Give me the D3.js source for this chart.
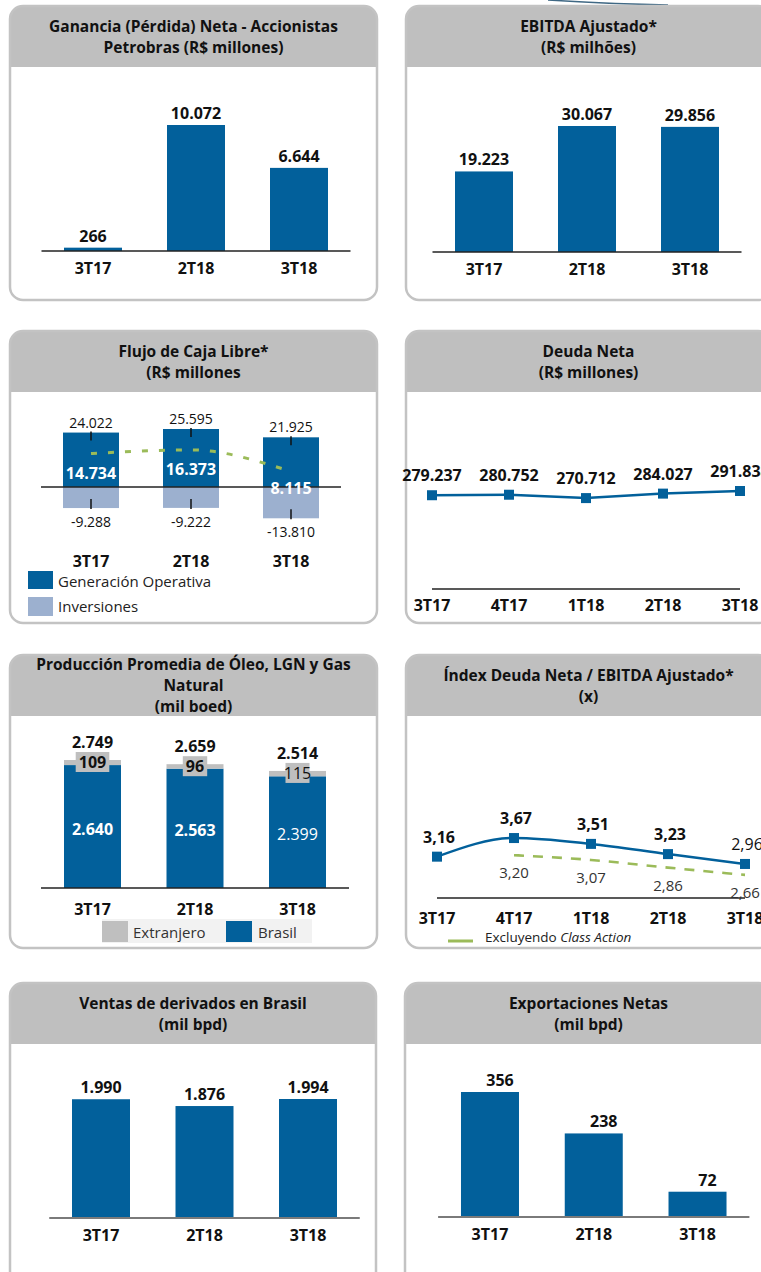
<!DOCTYPE html>
<html>
<head>
<meta charset="utf-8">
<script src="https://cdn.jsdelivr.net/npm/d3@7"></script>
<style>
  html, body { margin: 0; padding: 0; background: #ffffff; }
  svg { display: block; font-family: "Open Sans", "Noto Sans", sans-serif; }
</style>
</head>
<body>
<svg id="chart" width="761" height="1272"></svg>
<script>
// ---------- DATA ----------
const cats3 = ["3T17", "2T18", "3T18"];
const cats5 = ["3T17", "4T17", "1T18", "2T18", "3T18"];

const ganancia = [266, 10072, 6644];
const ebitda = [19223, 30067, 29856];

const fcfOperativa = [24022, 25595, 21925];
const fcfInversiones = [-9288, -9222, -13810];
const fcfLibre = [14734, 16373, 8115];

const deudaNeta = [279237, 280752, 270712, 284027, 291838];

const prodBrasil = [2640, 2563, 2399];
const prodExtranjero = [109, 96, 115];
const prodTotal = [2749, 2659, 2514];

const indexDeuda = [3.16, 3.67, 3.51, 3.23, 2.96];
const indexSinClassAction = [null, 3.20, 3.07, 2.86, 2.66];

const ventasDerivados = [1990, 1876, 1994];
const exportaciones = [356, 238, 72];

const titles = {
  ganancia: ["Ganancia (Pérdida) Neta - Accionistas", "Petrobras (R$ millones)"],
  ebitda: ["EBITDA Ajustado*", "(R$ milhões)"],
  fcf: ["Flujo de Caja Libre*", "(R$ millones"],
  deuda: ["Deuda Neta", "(R$ millones)"],
  prod: ["Producción Promedia de Óleo, LGN y Gas", "Natural", "(mil boed)"],
  index: ["Índex Deuda Neta / EBITDA Ajustado*", "(x)"],
  ventas: ["Ventas de derivados en Brasil", "(mil bpd)"],
  export: ["Exportaciones Netas", "(mil bpd)"]
};
const legendFcf = ["Generación Operativa", "Inversiones"];
const legendProd = ["Extranjero", "Brasil"];
const legendIndex = ["Excluyendo ", "Class Action"];

// ---------- STYLE ----------
const BLUE = "#02609b";
const LIGHTBLUE = "#9cb0cf";
const GRAY = "#bfbfbf";
const GREEN = "#9bbb59";
const TXT = "#111111";

const loc = d3.formatLocale({decimal: ",", thousands: ".", grouping: [3], currency: ["R$", ""], minus: "-"});
const fInt = loc.format(",d");
const fDec = loc.format(",.2f");

const svg = d3.select("#chart");

// decorative swoosh at the top
svg.append("path")
  .attr("d", "M548,0 Q610,4 668,5")
  .attr("fill", "none").attr("stroke", "#1d4e6e").attr("stroke-width", 1.6).attr("opacity", 0.85);

let clipId = 0;
function panel(x, y, w, h, lines) {
  const id = "clip" + (clipId++);
  svg.append("clipPath").attr("id", id)
    .append("rect").attr("x", x).attr("y", y).attr("width", w).attr("height", h).attr("rx", 13);
  const g = svg.append("g");
  g.append("rect").attr("x", x).attr("y", y).attr("width", w).attr("height", h).attr("rx", 13)
    .attr("fill", "#fff");
  g.append("rect").attr("x", x).attr("y", y).attr("width", w).attr("height", 61)
    .attr("fill", GRAY).attr("clip-path", `url(#${id})`);
  g.append("rect").attr("x", x).attr("y", y).attr("width", w).attr("height", h).attr("rx", 13)
    .attr("fill", "none").attr("stroke", "#c3c3c3").attr("stroke-width", 2.5);
  const cx = x + w / 2;
  const cy = y + 30.5;
  const n = lines.length;
  lines.forEach((t, i) => {
    g.append("text").attr("x", cx).attr("y", cy + (i - (n - 1) / 2) * 21 + 5.5)
      .attr("text-anchor", "middle").attr("font-size", 15.5).attr("font-weight", 700)
      .attr("fill", TXT).text(t);
  });
  return g;
}

function txt(g, x, y, t, opt = {}) {
  return g.append("text").attr("x", x).attr("y", y)
    .attr("text-anchor", opt.anchor || "middle")
    .attr("font-size", opt.size || 16)
    .attr("font-weight", opt.weight || 700)
    .attr("fill", opt.fill || TXT)
    .text(t);
}

function simpleBars(g, cats, vals, xr, y0, yTop, barW, opt = {}) {
  const step = (xr[1] - xr[0]) / cats.length;
  const pad = 1 - barW / step;
  const x = d3.scaleBand().domain(cats).range(xr).paddingInner(pad).paddingOuter(pad / 2);
  const y = d3.scaleLinear().domain([0, d3.max(vals)]).range([y0, yTop]);
  g.selectAll(null).data(vals).join("rect")
    .attr("x", (d, i) => x(cats[i])).attr("width", x.bandwidth())
    .attr("y", d => y(d)).attr("height", d => y(0) - y(d)).attr("fill", BLUE);
  g.append("line").attr("x1", xr[0]).attr("x2", xr[1]).attr("y1", y0).attr("y2", y0)
    .attr("stroke", opt.axisColor || "#222").attr("stroke-width", opt.axisW || 1.4);
  vals.forEach((d, i) => {
    txt(g, x(cats[i]) + x.bandwidth() / 2 + (opt.labelDx || 0), y(d) - 6, fInt(d));
  });
  cats.forEach(c => txt(g, x(c) + x.bandwidth() / 2, y0 + 23, c));
  return {x, y};
}

// ---------- 1. Ganancia ----------
{
  const g = panel(10, 6, 367, 294, titles.ganancia);
  simpleBars(g, cats3, ganancia, [41.5, 350.5], 251, 125, 58);
}

// ---------- 2. EBITDA ----------
{
  const g = panel(406, 6, 365, 294, titles.ebitda);
  simpleBars(g, cats3, ebitda, [432.5, 741.5], 252, 126, 58);
}

// ---------- 3. Flujo de Caja Libre ----------
{
  const g = panel(10, 331, 367, 292, titles.fcf);
  const xr = [41, 341];
  const step = (xr[1] - xr[0]) / 3, pad = 1 - 56 / step;
  const x = d3.scaleBand().domain(cats3).range(xr).paddingInner(pad).paddingOuter(pad / 2);
  const y = d3.scaleLinear().domain([0, d3.max(fcfOperativa)]).range([487, 429]);
  const cx = c => x(c) + x.bandwidth() / 2;
  g.selectAll(null).data(fcfInversiones).join("rect")
    .attr("x", (d, i) => x(cats3[i])).attr("width", x.bandwidth())
    .attr("y", y(0)).attr("height", d => y(d) - y(0)).attr("fill", LIGHTBLUE);
  g.selectAll(null).data(fcfOperativa).join("rect")
    .attr("x", (d, i) => x(cats3[i])).attr("width", x.bandwidth())
    .attr("y", d => y(d)).attr("height", d => y(0) - y(d)).attr("fill", BLUE);
  g.append("line").attr("x1", xr[0]).attr("x2", xr[1]).attr("y1", y(0)).attr("y2", y(0))
    .attr("stroke", "#222").attr("stroke-width", 1.4);
  // small ticks
  cats3.forEach((c, i) => {
    g.append("line").attr("x1", cx(c)).attr("x2", cx(c))
      .attr("y1", y(fcfOperativa[i]) - 1).attr("y2", y(fcfOperativa[i]) + 8)
      .attr("stroke", "#111").attr("stroke-width", 1.5);
    g.append("line").attr("x1", cx(c)).attr("x2", cx(c))
      .attr("y1", y(fcfInversiones[i]) - 9).attr("y2", y(fcfInversiones[i]) + 1)
      .attr("stroke", "#111").attr("stroke-width", 1.5);
  });
  // dashed free cash flow line (ends a little before the last bar centre, as in the original)
  const xl = (i) => cx(cats3[i]) - (i === 2 ? 9 : 0);
  const line = d3.line().x((d, i) => xl(i)).y(d => y(d)).curve(d3.curveMonotoneX);
  g.append("path").attr("d", line(fcfLibre)).attr("fill", "none")
    .attr("stroke", GREEN).attr("stroke-width", 3).attr("stroke-dasharray", "6,11");
  cats3.forEach((c, i) => {
    txt(g, cx(c), y(fcfOperativa[i]) - 5, fInt(fcfOperativa[i]), {weight: 400, size: 14});
    txt(g, cx(c), y(fcfInversiones[i]) + 19, fInt(fcfInversiones[i]), {weight: 400, size: 14});
    txt(g, cx(c), y(fcfLibre[i]) + 25, fInt(fcfLibre[i]), {fill: "#fff"});
    txt(g, cx(c), 567, c);
  });
  // legend
  g.append("rect").attr("x", 28).attr("y", 571).attr("width", 25).attr("height", 18).attr("fill", BLUE);
  txt(g, 58, 587, legendFcf[0], {anchor: "start", weight: 400, size: 15, fill: "#222"});
  g.append("rect").attr("x", 28).attr("y", 597).attr("width", 25).attr("height", 19).attr("fill", LIGHTBLUE);
  txt(g, 58, 612, legendFcf[1], {anchor: "start", weight: 400, size: 15, fill: "#222"});
}

// ---------- 4. Deuda Neta ----------
{
  const g = panel(406, 331, 365, 292, titles.deuda);
  const x = d3.scalePoint().domain(cats5).range([432, 740]);
  const y = d3.scaleLinear().domain([0, d3.max(deudaNeta)]).range([589, 491]);
  g.append("line").attr("x1", 432).attr("x2", 740).attr("y1", 589).attr("y2", 589)
    .attr("stroke", "#222").attr("stroke-width", 1.3);
  const line = d3.line().x((d, i) => x(cats5[i])).y(d => y(d));
  g.append("path").attr("d", line(deudaNeta)).attr("fill", "none")
    .attr("stroke", BLUE).attr("stroke-width", 2.5);
  deudaNeta.forEach((d, i) => {
    g.append("rect").attr("x", x(cats5[i]) - 5).attr("y", y(d) - 5)
      .attr("width", 10).attr("height", 10).attr("fill", BLUE);
    txt(g, x(cats5[i]), y(d) - 14, fInt(d));
  });
  cats5.forEach(c => txt(g, x(c), 611, c));
}

// ---------- 5. Producción ----------
{
  const g = panel(10, 655, 367, 293, titles.prod);
  const xr = [41.25, 348.75];
  const step = (xr[1] - xr[0]) / 3, pad = 1 - 57 / step;
  const x = d3.scaleBand().domain(cats3).range(xr).paddingInner(pad).paddingOuter(pad / 2);
  const y = d3.scaleLinear().domain([0, d3.max(prodTotal)]).range([888, 760]);
  const cx = c => x(c) + x.bandwidth() / 2;
  g.selectAll(null).data(prodBrasil).join("rect")
    .attr("x", (d, i) => x(cats3[i])).attr("width", x.bandwidth())
    .attr("y", d => y(d)).attr("height", d => y(0) - y(d)).attr("fill", BLUE);
  g.selectAll(null).data(prodExtranjero).join("rect")
    .attr("x", (d, i) => x(cats3[i])).attr("width", x.bandwidth())
    .attr("y", (d, i) => y(prodBrasil[i] + d)).attr("height", d => y(0) - y(d)).attr("fill", GRAY);
  g.append("line").attr("x1", 41).attr("x2", 349).attr("y1", 888).attr("y2", 888)
    .attr("stroke", "#222").attr("stroke-width", 1.4);
  cats3.forEach((c, i) => {
    const top = y(prodBrasil[i] + prodExtranjero[i]);
    const w = i === 2 ? 400 : 700;
    txt(g, cx(c), top - 12, fInt(prodTotal[i]));
    const lbl = fInt(prodExtranjero[i]);
    const bw = i === 2 ? 24 : lbl.length * 9.2 + 6;
    g.append("rect").attr("x", cx(c) - bw / 2).attr("y", top - 8).attr("width", bw).attr("height", 20)
      .attr("fill", GRAY);
    txt(g, cx(c), top + 8, lbl, {weight: w});
    txt(g, cx(c), (y(prodBrasil[i]) + y(0)) / 2 + 8, fInt(prodBrasil[i]), {fill: "#fff", weight: w});
    txt(g, cx(c), 915, c);
  });
  // legend
  g.append("rect").attr("x", 102).attr("y", 919).attr("width", 210).attr("height", 24).attr("fill", "#f2f2f2");
  g.append("rect").attr("x", 102).attr("y", 921).attr("width", 26).attr("height", 21).attr("fill", GRAY);
  txt(g, 133, 938, legendProd[0], {anchor: "start", weight: 400, size: 15, fill: "#333"});
  g.append("rect").attr("x", 226).attr("y", 921).attr("width", 26).attr("height", 21).attr("fill", BLUE);
  txt(g, 258, 938, legendProd[1], {anchor: "start", weight: 400, size: 15, fill: "#333"});
}

// ---------- 6. Índex Deuda Neta / EBITDA ----------
{
  const g = panel(406, 655, 365, 293, titles.index);
  const x = d3.scalePoint().domain(cats5).range([437, 745]);
  const y = d3.scaleLinear().domain([2, 4]).range([899, 826]);
  g.append("line").attr("x1", 437).attr("x2", 745).attr("y1", 898).attr("y2", 898)
    .attr("stroke", "#222").attr("stroke-width", 1.3);
  const line = d3.line()
    .x((d, i) => x(cats5[i])).y(d => y(d)).curve(d3.curveMonotoneX);
  const lineG = d3.line()
    .x(d => x(cats5[d.i])).y(d => y(d.v)).curve(d3.curveMonotoneX);
  const greenPts = indexSinClassAction.map((v, i) => ({v, i})).filter(d => d.v !== null);
  g.append("path").attr("d", lineG(greenPts)).attr("fill", "none")
    .attr("stroke", GREEN).attr("stroke-width", 2.6).attr("stroke-dasharray", "10,9");
  g.append("path").attr("d", line(indexDeuda)).attr("fill", "none")
    .attr("stroke", BLUE).attr("stroke-width", 2.5);
  indexDeuda.forEach((d, i) => {
    g.append("rect").attr("x", x(cats5[i]) - 5).attr("y", y(d) - 5)
      .attr("width", 10).attr("height", 10).attr("fill", BLUE);
    txt(g, x(cats5[i]) + 2, y(d) - 14, fDec(d), {weight: i === 4 ? 400 : 700});
  });
  greenPts.forEach(d => {
    txt(g, x(cats5[d.i]), y(d.v) + 23, fDec(d.v), {weight: 400, size: 15, fill: "#333"});
  });
  cats5.forEach(c => txt(g, x(c), 924, c));
  g.append("line").attr("x1", 448).attr("x2", 473).attr("y1", 941).attr("y2", 941)
    .attr("stroke", GREEN).attr("stroke-width", 3);
  const lt = g.append("text").attr("x", 485).attr("y", 942).attr("font-size", 13.5)
    .attr("fill", "#222");
  lt.append("tspan").text(legendIndex[0]);
  lt.append("tspan").attr("font-style", "italic").text(legendIndex[1]);
}

// ---------- 7. Ventas de derivados ----------
{
  const g = panel(10, 983, 366, 330, titles.ventas);
  simpleBars(g, cats3, ventasDerivados, [49.25, 359.75], 1218, 1099, 58,
    {axisColor: "#7a7a7a", axisW: 2});
}

// ---------- 8. Exportaciones Netas ----------
{
  const g = panel(405, 983, 367, 330, titles.export);
  simpleBars(g, cats3, exportaciones, [438.1, 749.4], 1217, 1092, 58,
    {axisColor: "#7a7a7a", axisW: 2, labelDx: 10});
}
</script>
</body>
</html>
